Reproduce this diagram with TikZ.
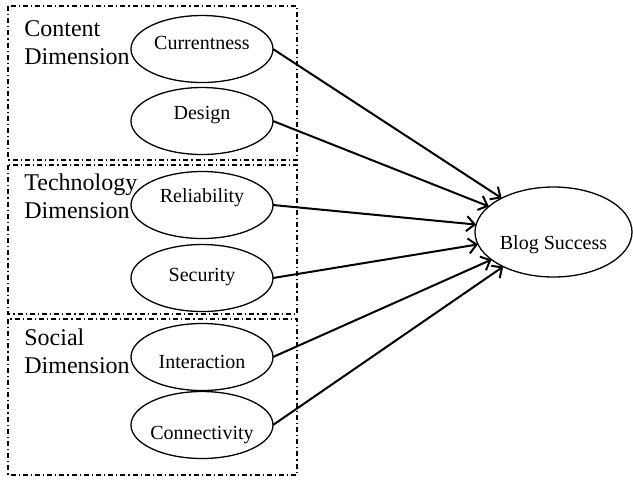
\documentclass[tikz,border=0pt]{standalone}
\usepackage{fontspec}
\setmainfont{Liberation Serif}
\usetikzlibrary{arrows.meta,positioning,shapes.geometric}

\begin{document}
\begin{tikzpicture}[
        x=0.5pt, y=-0.5pt,
        % Frames round each dimension
        group/.style={draw, line width=0.65pt, dash pattern=on 2.5pt off 1.5pt on 0.6pt off 1.5pt},
        dimlbl/.style={anchor=north west, inner sep=0pt, align=left, font=\fontsize{12}{14}\selectfont},
        % Ellipses
        factor/.style={ellipse, draw, line width=0.65pt, minimum width=71pt, minimum height=33.5pt, inner sep=0pt, outer sep=0pt},
        goal/.style={factor, minimum width=78.5pt, minimum height=45pt},
        tag/.style={anchor=base, inner sep=0pt, font=\fontsize{10}{12}\selectfont},
        % Arrows
        effect/.style={-{Straight Barb[length=4pt, width=7.5pt]}, line width=1pt}
    ]

    \useasboundingbox (0,0) rectangle (633,479);

    % Dimension frames
    \draw[group] (8,6) rectangle (297,160);
    \draw[group] (8,165) rectangle (297,314);
    \draw[group] (8,319) rectangle (297,475);

    \node[dimlbl] (contentlbl) at (24,20.6) {Content\\Dimension};
    \node[dimlbl] (techlbl) at (24,173.6) {Technology\\Dimension};
    \node[dimlbl] (sociallbl) at (24,328.6) {Social\\Dimension};

    % Factors
    \node[factor, label={[tag, yshift=3pt]center:Currentness}] (cur) at (202,49) {};
    \node[factor, below=2.5pt of cur, label={[tag, yshift=3pt]center:Design}] (design) {};
    \node[factor, below=8.5pt of design, label={[tag, yshift=3.5pt]center:Reliability}] (rel) {};
    \node[factor, below=3pt of rel, label={[tag, yshift=0.5pt]center:Security}] (sec) {};
    \node[factor, below=6pt of sec, label={[tag, yshift=-2.5pt]center:Interaction}] (inter) {};
    \node[factor, below=0.5pt of inter, label={[tag, yshift=-5pt]center:Connectivity}] (conn) {};

    % Outcome
    \node[goal, label={[tag, yshift=-6.5pt]center:Blog Success}] (blog) at (553.5,232) {};

    \foreach \f in {cur,design,rel,sec,inter,conn}
        \draw[effect] (\f.east) -- (blog);

\end{tikzpicture}
\end{document}
